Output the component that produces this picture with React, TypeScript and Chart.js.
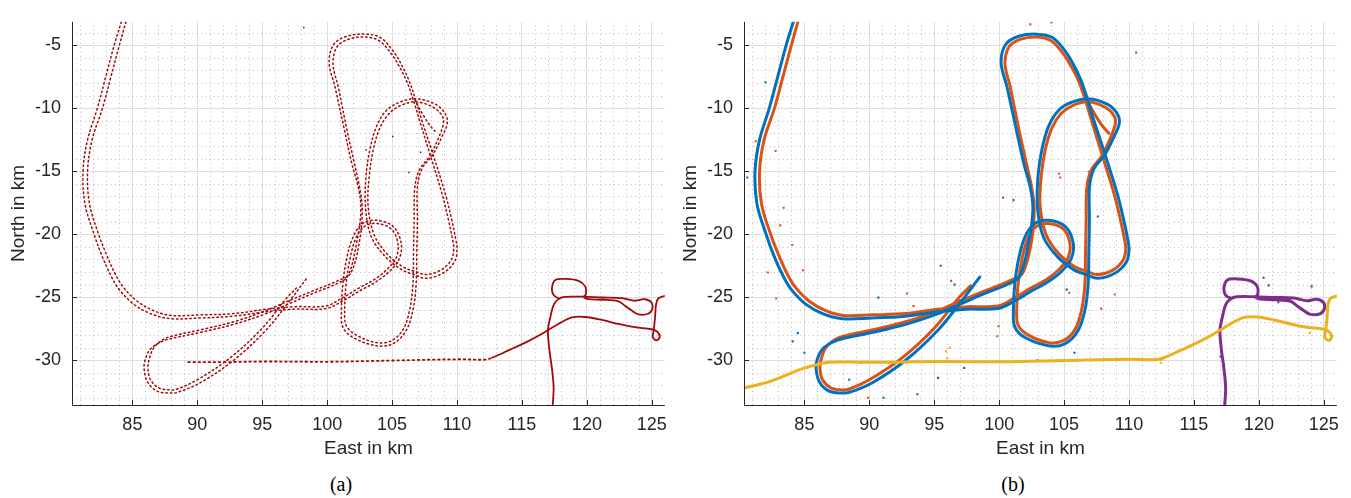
import React, { useEffect, useRef } from "react";
import { Chart, registerables } from "chart.js";

Chart.register(...registerables);

type P = [number, number];

// ---- axes ----
const xTicks = [85, 90, 95, 100, 105, 110, 115, 120, 125];
const yTicks = [-30, -25, -20, -15, -10, -5];
const xMin = 80.35;
const xMax = 126.0;
const yMin = -33.55;
const yMax = -3.15;
const minorStep = 1;

// ---- tracks (East km, North km) ----
const blueTrack: P[] = [
  [84.15, -3.15], [83.6, -5.0], [82.95, -7.5], [82.3, -10.0], [81.55, -12.5], [81.2, -15.0], [81.35, -17.6],
  [82.05, -20.0], [82.65, -21.7], [83.4, -23.4], [84.0, -24.4], [85.1, -25.55], [86.4, -26.3], [87.9, -26.7],
  [90.2, -26.65], [92.8, -26.5], [95.3, -26.15], [97.5, -25.95], [99.9, -25.9], [101.2, -25.3], [102.5, -24.5],
  [103.8, -23.75], [104.8, -22.95], [105.55, -21.95], [105.7, -20.7], [105.1, -19.4], [103.8, -18.9],
  [102.75, -19.15], [102.0, -20.2], [101.5, -21.95], [101.2, -24.0], [101.1, -26.0], [101.2, -27.35],
  [102.0, -28.2], [103.8, -28.85], [105.05, -28.7], [106.05, -27.7], [106.6, -26.05], [106.85, -24.0],
  [106.9, -21.45], [106.95, -18.9], [106.95, -16.3], [107.3, -14.8], [108.1, -13.75], [108.85, -12.25],
  [109.25, -11.2], [109.1, -10.45], [108.35, -9.7], [106.85, -9.25], [105.55, -9.55], [104.55, -10.2],
  [103.8, -11.45], [103.3, -13.25], [103.0, -15.3], [102.95, -17.85], [103.4, -20.2], [104.5, -21.8],
  [105.8, -22.85], [106.7, -23.2], [107.6, -23.5], [108.9, -23.1], [109.8, -22.2], [110.0, -21.2],
  [109.9, -20.4], [109.6, -18.9], [109.1, -16.8], [108.1, -13.5], [107.3, -11.0], [106.8, -9.3],
  [106.3, -7.8], [105.7, -6.5], [105.1, -5.5], [104.1, -4.4], [102.9, -4.13], [101.5, -4.3], [100.5, -4.95],
  [100.15, -6.4], [100.6, -8.3], [101.3, -11.6], [101.9, -14.4], [102.4, -16.3], [102.6, -18.0],
  [102.3, -20.5], [101.6, -23.3], [100.7, -23.95], [98.9, -24.7], [97.1, -25.5], [95.3, -26.3],
  [92.8, -27.15], [90.2, -27.8], [87.9, -28.3], [87.2, -28.55], [86.4, -29.1], [86.0, -29.9], [85.9, -30.65],
  [86.15, -31.7], [86.9, -32.45], [87.9, -32.6], [88.45, -32.55], [90.2, -31.8], [92.8, -30.0], [95.3, -27.6],
  [97.1, -25.3], [98.5, -23.4],
];

const orangeTrack: P[] = [
  [84.5, -3.15], [84.0, -5.0], [83.35, -7.5], [82.7, -10.0], [81.9, -12.5], [81.55, -15.0], [81.7, -17.6],
  [82.4, -20.0], [83.0, -21.6], [83.7, -23.2], [84.3, -24.2], [85.35, -25.3], [86.6, -26.05], [88.0, -26.45],
  [90.2, -26.4], [92.8, -26.3], [95.3, -25.95], [97.5, -25.75], [99.9, -25.7], [101.1, -25.1], [102.4, -24.3],
  [103.7, -23.55], [104.6, -22.8], [105.3, -21.9], [105.45, -20.75], [104.95, -19.6], [103.8, -19.15],
  [102.85, -19.4], [102.2, -20.35], [101.75, -22.0], [101.45, -24.0], [101.35, -26.0], [101.45, -27.2],
  [102.15, -27.95], [103.8, -28.6], [104.95, -28.45], [105.85, -27.55], [106.35, -26.0], [106.6, -24.0],
  [106.65, -21.45], [106.7, -18.9], [106.75, -16.3], [107.1, -14.9], [107.9, -13.8], [108.6, -12.3],
  [108.95, -11.2], [108.85, -10.6], [108.2, -9.95], [106.85, -9.5], [105.65, -9.8], [104.75, -10.45],
  [104.05, -11.6], [103.55, -13.3], [103.25, -15.3], [103.15, -17.7], [103.6, -20.0], [104.6, -21.55],
  [105.85, -22.6], [106.75, -22.95], [107.6, -23.2], [108.75, -22.85], [109.55, -22.05], [109.75, -21.15],
  [109.65, -20.4], [109.35, -18.9], [108.85, -16.8], [107.9, -13.6], [107.15, -11.1], [106.65, -9.4],
  [106.1, -7.8], [105.5, -6.6], [104.95, -5.7], [104.0, -4.65], [102.9, -4.35], [101.6, -4.55], [100.75, -5.15],
  [100.45, -6.5], [100.85, -8.3], [101.5, -11.6], [102.1, -14.4], [102.5, -16.3], [102.7, -18.0],
  [102.5, -20.5], [101.8, -23.1], [100.8, -23.7], [98.9, -24.5], [97.0, -25.3], [95.2, -26.1], [92.8, -26.95],
  [90.2, -27.6], [88.0, -28.1], [87.3, -28.4], [86.65, -29.0], [86.3, -29.9], [86.2, -30.65], [86.4, -31.55],
  [87.05, -32.2], [87.9, -32.35], [88.4, -32.3], [90.0, -31.55], [92.6, -29.75], [95.05, -27.4], [96.85, -25.1],
  [97.8, -24.1],
];

const orangeHook: P[] = [[106.75, -9.35], [107.4, -10.55], [107.9, -11.35], [108.45, -12.0]];

const yellowTrack: P[] = [
  [80.35, -32.2], [82.3, -31.7], [84.9, -30.65], [86.15, -30.3], [86.9, -30.15], [89.3, -30.15], [92.0, -30.15],
  [95.1, -30.1], [100.2, -30.12], [105.05, -30.02], [110.15, -29.92], [112.2, -29.95], [112.7, -29.8],
  [114.0, -29.2], [115.27, -28.6], [116.55, -27.9], [117.83, -27.1], [118.85, -26.6], [119.87, -26.57],
  [121.15, -26.8], [122.42, -27.12], [123.7, -27.38], [124.98, -27.54], [125.4, -27.72], [125.62, -28.12],
  [125.38, -28.42], [125.08, -28.18], [125.15, -27.6], [125.25, -26.6], [125.33, -25.55], [125.5, -25.1],
  [125.98, -24.9],
];

const purpleTrack: P[] = [
  [117.37, -33.55], [117.44, -32.2], [117.31, -30.66], [117.11, -29.13], [117.0, -27.59], [117.19, -26.57],
  [117.44, -25.6], [117.8, -25.15], [118.3, -24.97], [119.6, -24.96], [121.15, -25.02], [122.7, -25.07],
  [123.7, -25.28], [124.47, -25.16], [124.98, -25.42], [125.03, -25.93], [124.72, -26.31], [123.96, -26.36],
  [123.45, -26.06], [122.93, -25.67], [122.42, -25.32], [121.2, -25.2], [120.1, -25.15], [119.75, -25.0],
  [119.92, -24.75], [119.87, -24.14], [119.36, -23.7], [118.34, -23.55], [117.57, -23.63], [117.31, -24.27],
  [117.45, -24.85], [117.9, -25.12],
];

// ---- scattered estimates ----
const blueOutliers: P[] = [
  [82.0, -7.95], [80.6, -15.5], [101.1, -17.3], [107.6, -18.6], [84.5, -27.85], [84.1, -28.5], [85.0, -29.4],
  [90.7, -25.03], [88.45, -31.55], [91.1, -32.97], [93.7, -32.7], [95.3, -31.4], [95.5, -22.5], [96.56, -24.0],
  [102.96, -24.27], [105.2, -24.4], [105.8, -29.4], [102.96, -30.0], [117.04, -29.7], [97.3, -30.6],
];
const orangeOutliers: P[] = [
  [81.25, -12.63], [82.78, -13.4], [83.4, -17.9], [83.14, -19.3], [84.06, -20.86], [100.3, -17.1],
  [104.03, -3.2], [102.4, -3.35], [110.55, -5.6], [104.6, -15.2], [104.7, -15.5], [106.9, -15.05],
  [82.19, -23.04], [82.83, -25.1], [84.9, -22.86], [92.9, -24.7], [93.4, -25.7], [96.3, -23.7], [99.95, -27.3],
  [99.85, -28.1], [89.9, -32.97], [105.4, -24.65], [107.86, -25.9], [108.9, -24.78],
];
const yellowOutliers: P[] = [[95.9, -29.3], [96.0, -29.85], [96.2, -29.0], [123.93, -27.85], [112.45, -30.2]];
const purpleOutliers: P[] = [[120.36, -23.45], [120.75, -24.06], [124.06, -24.14], [121.5, -25.4]];
const measOutliers: P[] = [[98.2, -3.6], [105.05, -12.25], [107.2, -13.5], [106.3, -15.1], [103.0, -13.3]];

// ---- styles ----
const FONT = '"Liberation Sans", Arial, Helvetica, sans-serif';
const SERIF = '"Liberation Serif", "Times New Roman", serif';
const AXIS = "#262626";
const BLUE = "#0072BD";
const ORANGE = "#D95319";
const YELLOW = "#EDB120";
const PURPLE = "#7E2F8E";
const RED = "#A00A0A";

const pts = (t: P[]) => t.map(([x, y]) => ({ x, y }));

const axesPlugin = {
  id: "matlabAxes",
  beforeDatasetsDraw(chart: any) {
    const { ctx, chartArea: a, scales } = chart;
    const xs = scales.x;
    const ys = scales.y;
    ctx.save();
    ctx.beginPath();
    ctx.rect(a.left, a.top, a.right - a.left, a.bottom - a.top);
    ctx.clip();
    ctx.strokeStyle = "#bcbcbc";
    ctx.lineWidth = 1;
    ctx.setLineDash([1, 3.3]);
    for (let v = Math.ceil(xMin); v <= xMax; v += minorStep) {
      if (v % 5 === 0) continue;
      const px = Math.round(xs.getPixelForValue(v)) + 0.5;
      ctx.beginPath();
      ctx.moveTo(px, a.bottom);
      ctx.lineTo(px, a.top);
      ctx.stroke();
    }
    for (let v = Math.ceil(yMin); v <= yMax; v += minorStep) {
      if (v % 5 === 0) continue;
      const py = Math.round(ys.getPixelForValue(v)) + 0.5;
      ctx.beginPath();
      ctx.moveTo(a.left, py);
      ctx.lineTo(a.right, py);
      ctx.stroke();
    }
    ctx.restore();
  },
  afterDatasetsDraw(chart: any) {
    const { ctx, chartArea: a, scales } = chart;
    const xs = scales.x;
    const ys = scales.y;
    ctx.save();
    ctx.strokeStyle = AXIS;
    ctx.lineWidth = 1;
    ctx.beginPath();
    ctx.moveTo(Math.round(a.left) + 0.5, a.top);
    ctx.lineTo(Math.round(a.left) + 0.5, Math.round(a.bottom) + 0.5);
    ctx.lineTo(a.right, Math.round(a.bottom) + 0.5);
    ctx.stroke();
    ctx.beginPath();
    for (const v of xTicks) {
      const px = Math.round(xs.getPixelForValue(v)) + 0.5;
      ctx.moveTo(px, a.bottom);
      ctx.lineTo(px, a.bottom - 5);
    }
    for (const v of yTicks) {
      const py = Math.round(ys.getPixelForValue(v)) + 0.5;
      ctx.moveTo(a.left, py);
      ctx.lineTo(a.left + 5, py);
    }
    ctx.stroke();
    ctx.restore();
  },
};

function lineSet(t: P[], color: string, width: number, extra: any = {}) {
  return {
    data: pts(t),
    showLine: true,
    borderColor: color,
    backgroundColor: color,
    borderWidth: width,
    pointRadius: 0,
    tension: 0.35,
    borderCapStyle: "round",
    borderJoinStyle: "round",
    ...extra,
  };
}

function dotSet(t: P[], color: string, r = 1.5) {
  return {
    data: pts(t),
    showLine: false,
    pointRadius: r,
    borderWidth: 0,
    backgroundColor: color,
    pointStyle: "rect",
  };
}

function makeOptions(): any {
  return {
    responsive: false,
    animation: false,
    devicePixelRatio: 1,
    events: [],
    layout: { padding: { top: 8, right: 8, left: 0, bottom: 0 } },
    plugins: { legend: { display: false }, tooltip: { enabled: false } },
    scales: {
      x: {
        type: "linear",
        min: xMin,
        max: xMax,
        afterBuildTicks: (s: any) => {
          s.ticks = xTicks.map((v) => ({ value: v }));
        },
        afterFit: (s: any) => {
          s.height = 65;
        },
        grid: { color: "#dedede", lineWidth: 1, drawTicks: false },
        border: { display: false },
        ticks: { color: AXIS, padding: 9, autoSkip: false, maxRotation: 0, font: { family: FONT, size: 18 } },
        title: {
          display: true,
          text: "East in km",
          color: AXIS,
          font: { family: FONT, size: 19 },
          padding: { top: 0, bottom: 10 },
        },
      },
      y: {
        type: "linear",
        min: yMin,
        max: yMax,
        afterBuildTicks: (s: any) => {
          s.ticks = yTicks.map((v) => ({ value: v }));
        },
        afterFit: (s: any) => {
          s.width = 72;
        },
        grid: { color: "#dedede", lineWidth: 1, drawTicks: false },
        border: { display: false },
        ticks: { color: AXIS, padding: 11, autoSkip: false, font: { family: FONT, size: 18 } },
        title: {
          display: true,
          text: "North in km",
          color: AXIS,
          font: { family: FONT, size: 19 },
          padding: { top: 7, bottom: 0 },
        },
      },
    },
  };
}

export default function App() {
  const leftRef = useRef<HTMLCanvasElement | null>(null);
  const rightRef = useRef<HTMLCanvasElement | null>(null);

  useEffect(() => {
    if (!leftRef.current || !rightRef.current) return;
    const leftYellow = yellowTrack.filter(([x]) => x >= 89.3);
    const measDash = [1.5, 3];
    const left = new Chart(leftRef.current, {
      type: "scatter",
      data: {
        datasets: [
          lineSet(leftYellow, RED, 1.8, {
            segment: { borderDash: (c: any) => (c.p0.parsed.x < 112.5 ? [1.6, 3.5] : undefined) },
          }),
          lineSet(blueTrack, RED, 1.5, { borderDash: measDash }),
          lineSet(orangeTrack, RED, 1.5, { borderDash: measDash }),
          lineSet(orangeHook, RED, 1.5, { borderDash: measDash }),
          lineSet(purpleTrack, RED, 1.8),
          dotSet(measOutliers, RED, 1.1),
        ] as any,
      },
      options: makeOptions(),
      plugins: [axesPlugin as any],
    });
    const right = new Chart(rightRef.current, {
      type: "scatter",
      data: {
        datasets: [
          lineSet(yellowTrack, YELLOW, 3),
          lineSet(blueTrack, BLUE, 3),
          lineSet(orangeTrack, ORANGE, 3),
          lineSet(orangeHook, ORANGE, 3),
          lineSet(purpleTrack, PURPLE, 3),
          dotSet(blueOutliers, BLUE),
          dotSet(orangeOutliers, ORANGE),
          dotSet(yellowOutliers, YELLOW),
          dotSet(purpleOutliers, PURPLE),
        ] as any,
      },
      options: makeOptions(),
      plugins: [axesPlugin as any],
    });
    return () => {
      left.destroy();
      right.destroy();
    };
  }, []);

  const caption: React.CSSProperties = {
    position: "absolute",
    top: 472,
    width: 60,
    textAlign: "center",
    fontFamily: SERIF,
    fontSize: 20,
    lineHeight: "24px",
    color: "#000",
  };

  return (
    <div style={{ position: "absolute", left: 0, top: 0, width: 1351, height: 498, background: "#fff", overflow: "hidden" }}>
      <canvas ref={leftRef} width={676} height={470} style={{ position: "absolute", left: 0, top: 0, width: 676, height: 470 }} />
      <canvas ref={rightRef} width={676} height={470} style={{ position: "absolute", left: 672, top: 0, width: 676, height: 470 }} />
      <div style={{ ...caption, left: 311 }}>(a)</div>
      <div style={{ ...caption, left: 983 }}>(b)</div>
    </div>
  );
}
